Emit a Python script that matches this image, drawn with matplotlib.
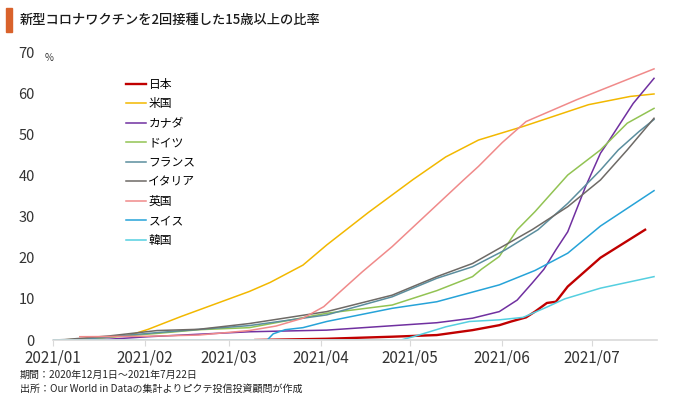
import matplotlib
matplotlib.use("Agg")
import matplotlib.pyplot as plt
import matplotlib.dates as mdates
import pandas as pd
from matplotlib.patches import Rectangle

plt.rcParams['font.family'] = ['Noto Sans CJK JP', 'DejaVu Sans']

# Values (% of people aged 15+ with 2 doses)
japan_dates = ["2021-03-10", "2021-04-03", "2021-04-25", "2021-05-10", "2021-05-22", "2021-05-31",
               "2021-06-04", "2021-06-09", "2021-06-12", "2021-06-16", "2021-06-19", "2021-06-20",
               "2021-06-23", "2021-07-04", "2021-07-19"]
japan_vals = [0.0, 0.3, 0.8, 1.2, 2.4, 3.6, 4.5, 5.5, 6.9, 9.0, 9.3, 10.2, 13.0, 20.0, 26.8]

us_dates = ["2021-01-01", "2021-01-08", "2021-01-15", "2021-01-27", "2021-02-02", "2021-02-13",
            "2021-03-08", "2021-03-15", "2021-03-26", "2021-04-03", "2021-04-17", "2021-05-02",
            "2021-05-13", "2021-05-24", "2021-06-08", "2021-06-30", "2021-07-14", "2021-07-22"]
us_vals = [0.0, 0.1, 0.4, 1.2, 2.6, 5.7, 11.8, 14.0, 18.2, 23.1, 31.0, 39.0,
           44.5, 48.6, 51.9, 57.2, 59.2, 59.8]

canada_dates = ["2021-01-01", "2021-01-20", "2021-02-02", "2021-03-08", "2021-04-03", "2021-05-10",
                "2021-05-22", "2021-05-31", "2021-06-06", "2021-06-11", "2021-06-15", "2021-06-19",
                "2021-06-23", "2021-06-29", "2021-07-04", "2021-07-07", "2021-07-15", "2021-07-22"]
canada_vals = [0.0, 0.2, 0.8, 2.0, 2.4, 4.2, 5.3, 6.9, 9.7, 13.8, 17.2, 21.9,
               26.3, 37.3, 45.4, 48.6, 57.5, 63.6]

germany_dates = ["2021-01-01", "2021-01-10", "2021-02-05", "2021-02-19", "2021-03-08", "2021-04-03",
                 "2021-04-25", "2021-05-10", "2021-05-22", "2021-05-25", "2021-05-31", "2021-06-06",
                 "2021-06-12", "2021-06-23", "2021-07-04", "2021-07-13", "2021-07-22"]
germany_vals = [0.0, 0.1, 1.6, 2.5, 3.0, 6.5, 8.5, 12.0, 15.4, 17.2, 20.3, 26.8,
                31.2, 40.1, 46.2, 52.7, 56.3]

france_dates = ["2021-01-01", "2021-01-10", "2021-02-05", "2021-03-08", "2021-04-03", "2021-04-25",
                "2021-05-10", "2021-05-22", "2021-06-02", "2021-06-13", "2021-06-23", "2021-07-04",
                "2021-07-10", "2021-07-17", "2021-07-22"]
france_vals = [0.0, 0.1, 1.8, 3.5, 6.1, 10.5, 15.0, 17.8, 21.9, 26.8, 33.2, 41.3, 46.2, 50.7, 53.6]

italy_dates = ["2021-01-01", "2021-01-05", "2021-01-20", "2021-02-05", "2021-02-19", "2021-03-08",
               "2021-04-03", "2021-04-25", "2021-05-10", "2021-05-22", "2021-06-02", "2021-06-11",
               "2021-06-23", "2021-07-04", "2021-07-13", "2021-07-22"]
italy_vals = [0.0, 0.1, 1.0, 2.3, 2.6, 4.0, 6.9, 10.9, 15.4, 18.6, 23.1, 26.8, 32.4, 38.9, 46.2, 53.9]

uk_dates = ["2021-01-10", "2021-02-01", "2021-02-19", "2021-03-08", "2021-03-17", "2021-03-26",
            "2021-04-02", "2021-04-07", "2021-04-15", "2021-04-25", "2021-05-19", "2021-05-24",
            "2021-06-01", "2021-06-09", "2021-06-26", "2021-07-22"]
uk_vals = [0.8, 0.9, 1.2, 2.3, 3.4, 5.3, 8.1, 11.4, 16.6, 22.7, 38.9, 42.2, 48.0, 53.1, 58.4, 65.9]

swiss_dates = ["2021-03-14", "2021-03-16", "2021-03-20", "2021-03-26", "2021-04-03", "2021-04-25",
               "2021-05-10", "2021-05-31", "2021-06-12", "2021-06-23", "2021-07-04", "2021-07-13",
               "2021-07-22"]
swiss_vals = [0.0, 1.5, 2.5, 3.0, 4.5, 7.7, 9.3, 13.4, 16.9, 21.1, 27.7, 32.0, 36.3]

korea_dates = ["2021-01-01", "2021-04-28", "2021-05-03", "2021-05-13", "2021-05-21", "2021-05-31",
               "2021-06-08", "2021-06-16", "2021-06-22", "2021-07-04", "2021-07-13", "2021-07-22"]
korea_vals = [0.0, 0.0, 1.0, 3.2, 4.5, 4.9, 5.5, 8.0, 10.0, 12.6, 14.0, 15.4]

labels = ["日本", "米国", "カナダ", "ドイツ", "フランス", "イタリア", "英国", "スイス", "韓国"]
colors = ["#c00000", "#f2b800", "#7030a0", "#92c353", "#5b8e9e", "#6e6a66", "#f08a8a", "#26a3d8", "#55cfe0"]
series = [(japan_dates, japan_vals), (us_dates, us_vals), (canada_dates, canada_vals),
          (germany_dates, germany_vals), (france_dates, france_vals), (italy_dates, italy_vals),
          (uk_dates, uk_vals), (swiss_dates, swiss_vals), (korea_dates, korea_vals)]

fig = plt.figure(figsize=(6.8, 3.98), dpi=100)
ax = fig.add_axes([53/680, 1 - 340/398, (657 - 53)/680, (340 - 52)/398])

for (d, v), lab, c in zip(series, labels, colors):
    lw = 1.7 if lab == "日本" else 1.1
    ax.plot(pd.to_datetime(d), v, color=c, lw=lw, label=lab)

ax.set_ylim(0, 70)
ax.set_yticks(range(0, 71, 10))
ax.set_xlim(pd.Timestamp("2021-01-01"), pd.Timestamp("2021-07-23"))
ax.xaxis.set_major_locator(mdates.MonthLocator())
ax.xaxis.set_major_formatter(mdates.DateFormatter("%Y/%m"))

for s in ["top", "right", "left"]:
    ax.spines[s].set_visible(False)
ax.spines["bottom"].set_color("#d9d9d9")
ax.spines["bottom"].set_linewidth(1.2)
ax.tick_params(axis="y", length=0, pad=13, labelsize=10.5, labelcolor="#333333")
ax.tick_params(axis="x", length=4, color="#d9d9d9", pad=3, labelsize=11, labelcolor="#333333")

leg = ax.legend(loc="upper left", bbox_to_anchor=(126/680, 1 - 78/398), bbox_transform=fig.transFigure,
                frameon=False, fontsize=8.5, handlelength=1.7, handletextpad=0.2,
                labelspacing=0.55, borderpad=0, borderaxespad=0)

fig.text(45/680, 1 - 58/398, "%", fontsize=7, color="#333333", va="center")

# title with orange bar
fig.patches.append(Rectangle((6/680, 1 - 32/398), 6/680, 24/398, transform=fig.transFigure,
                             color="#d9622b", zorder=5))
fig.text(20/680, 1 - 20/398, "新型コロナワクチンを2回接種した15歳以上の比率", fontsize=9.5,
         fontweight="medium", va="center", color="#1a1a1a")

fig.text(20/680, 1 - 375/398, "期間：2020年12月1日～2021年7月22日", fontsize=7.2, va="center", color="#222222")
fig.text(20/680, 1 - 389/398, "出所：Our World in Dataの集計よりピクテ投信投資顧問が作成", fontsize=7.2,
         va="center", color="#222222")

fig.savefig("out.png", dpi=100)
